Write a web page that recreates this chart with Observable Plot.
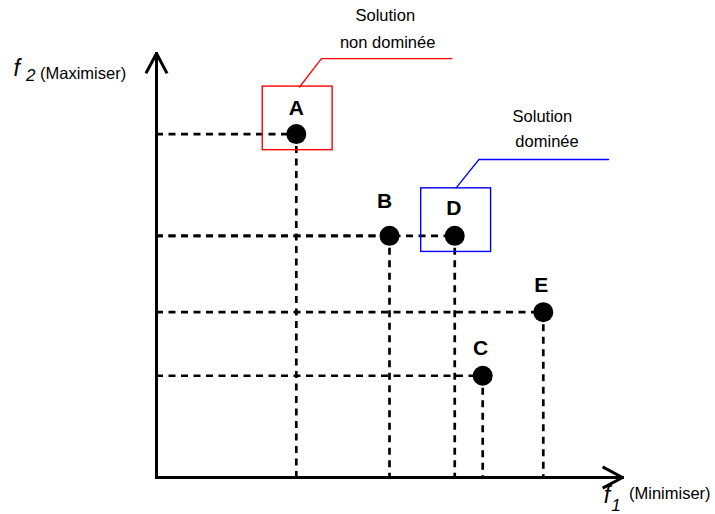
<!DOCTYPE html>
<html>
<head>
<meta charset="utf-8">
<script src="https://cdn.jsdelivr.net/npm/d3@7"></script>
<script src="https://cdn.jsdelivr.net/npm/@observablehq/plot@0.6"></script>
<style>
  html, body { margin: 0; padding: 0; background: #fff; }
  #chart { width: 715px; height: 514px; }
</style>
</head>
<body>
<div id="chart"></div>
<script>
// ---- data ----
const categories = ["A", "B", "C", "D", "E"];
const f1Values = [30, 50, 70, 64, 83];   // f1 (Minimiser)
const f2Values = [81, 57, 24, 57, 39];   // f2 (Maximiser)
const nonDominated = ["A"];
const dominated = ["D"];
const calloutNonDominated = ["Solution", "non dominée"];
const calloutDominated = ["Solution", "dominée"];
const yAxisLabel = ["f", "2", "(Maximiser)"];
const xAxisLabel = ["f", "1", "(Minimiser)"];

const points = categories.map((c, i) => ({name: c, f1: f1Values[i], f2: f2Values[i]}));
const byName = Object.fromEntries(points.map(p => [p.name, p]));

// label nudges (pixels)
const nudge = {A: [0, -26], B: [-5, -35], C: [-2, -27], D: [-1, -28], E: [-2, -27]};

// highlight boxes around a point (data units)
const box = p => ({x1: p.f1 - 7.2, x2: p.f1 + 7.8, y1: p.f2 - 3.8, y2: p.f2 + 11.2});
const redBoxes = nonDominated.map(n => box(byName[n]));
const blueBoxes = dominated.map(n => box(byName[n]));

const font = "'Liberation Sans', Arial, Helvetica, sans-serif";
const dash = "7,5.5";

const chart = Plot.plot({
  width: 715,
  height: 514,
  marginLeft: 156,
  marginRight: 93,
  marginTop: 53,
  marginBottom: 37,
  x: {domain: [0, 100], axis: null},
  y: {domain: [0, 100], axis: null},
  style: {fontFamily: font, background: "#fff", color: "#000", overflow: "visible"},
  marks: [
    // dashed projections
    Plot.ruleY(points, {y: "f2", x1: 0, x2: "f1", stroke: "#000", strokeWidth: 2.7, strokeDasharray: dash}),
    Plot.ruleX(points, {x: "f1", y1: "f2", y2: 0, stroke: "#000", strokeWidth: 2.7, strokeDasharray: dash}),
    // highlight boxes
    Plot.rect(redBoxes, {x1: "x1", x2: "x2", y1: "y1", y2: "y2", fill: "none", stroke: "#ff0000", strokeWidth: 1.4}),
    Plot.rect(blueBoxes, {x1: "x1", x2: "x2", y1: "y1", y2: "y2", fill: "none", stroke: "#0000ff", strokeWidth: 1.4}),
    // callout leader lines
    Plot.line([[30.7, 92.1], [35.4, 98.8], [63.4, 98.8]], {stroke: "#ff0000", strokeWidth: 1.3}),
    Plot.line([[64.3, 68.3], [69.2, 75.0], [97.0, 75.0]], {stroke: "#0000ff", strokeWidth: 1.3}),
    // callout texts
    Plot.text(calloutNonDominated, {x: [49.1, 49.6], y: [108.8, 102.6], text: d => d, fontSize: 16.5, fill: "#000"}),
    Plot.text(calloutDominated, {x: [82.8, 83.8], y: [85.0, 79.3], text: d => d, fontSize: 16.5, fill: "#000"}),
    // axes with arrows
    Plot.arrow([{x1: 0, y1: 0, x2: 0, y2: 100}, {x1: 0, y1: 0, x2: 100, y2: 0}], {
      x1: "x1", y1: "y1", x2: "x2", y2: "y2",
      stroke: "#000", strokeWidth: 3, headLength: 10.5, headAngle: 56, strokeLinecap: "square"
    }),
    // points
    Plot.dot(points, {x: "f1", y: "f2", r: 10, fill: "#000"}),
    ...points.map(p => Plot.text([p], {
      x: "f1", y: "f2", text: "name", dx: nudge[p.name][0], dy: nudge[p.name][1],
      fontSize: 21, fontWeight: "bold", fill: "#000"
    })),
    // axis labels
    Plot.text([yAxisLabel[0]], {x: -30.7, y: 94.8, text: d => d, textAnchor: "start", lineAnchor: "bottom", fontSize: 23, fontStyle: "italic", fill: "#000"}),
    Plot.text([yAxisLabel[1]], {x: -28.0, y: 93.6, text: d => d, textAnchor: "start", lineAnchor: "bottom", fontSize: 17, fontStyle: "italic", fill: "#000"}),
    Plot.text([yAxisLabel[2]], {x: -25.0, y: 93.9, text: d => d, textAnchor: "start", lineAnchor: "bottom", fontSize: 16.5, fill: "#000"}),
    Plot.text([xAxisLabel[0]], {x: 96.0, y: -6.0, text: d => d, textAnchor: "start", lineAnchor: "bottom", fontSize: 23, fontStyle: "italic", fill: "#000"}),
    Plot.text([xAxisLabel[1]], {x: 97.6, y: -8.0, text: d => d, textAnchor: "start", lineAnchor: "bottom", fontSize: 17, fontStyle: "italic", fill: "#000"}),
    Plot.text([xAxisLabel[2]], {x: 101.4, y: -5.0, text: d => d, textAnchor: "start", lineAnchor: "bottom", fontSize: 16.5, fill: "#000"})
  ]
});
document.getElementById("chart").appendChild(chart);
</script>
</body>
</html>
